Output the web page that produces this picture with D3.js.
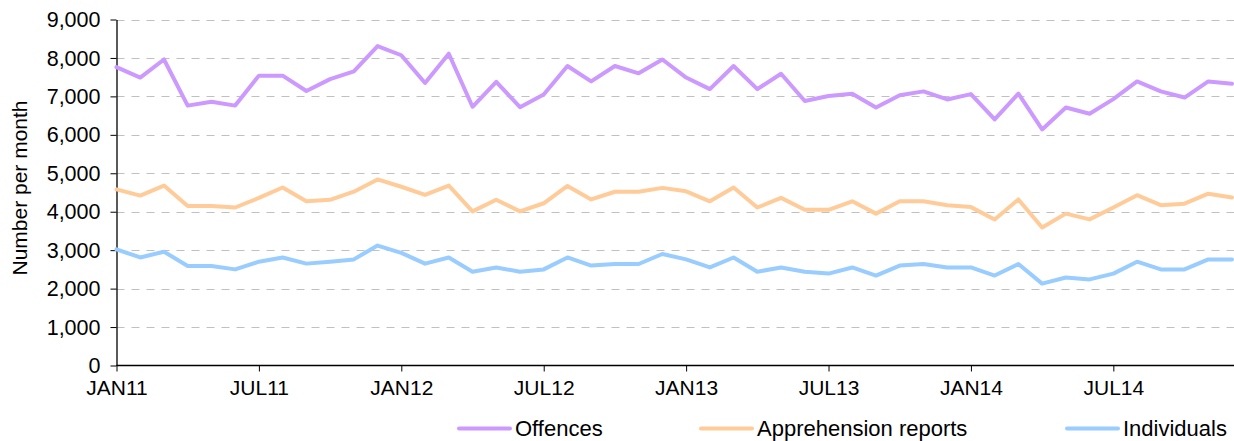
<!DOCTYPE html>
<html>
<head>
<meta charset="utf-8">
<script src="https://cdn.jsdelivr.net/npm/d3@7"></script>
<style>
  html, body { margin: 0; padding: 0; background: #fff; }
  svg { display: block; font-family: "Liberation Sans", Arial, sans-serif; }
</style>
</head>
<body>
<svg id="chart" width="1234" height="441"></svg>
<script>
// Months JAN11 .. DEC14
const months = [
  "JAN11","FEB11","MAR11","APR11","MAY11","JUN11","JUL11","AUG11","SEP11","OCT11","NOV11","DEC11",
  "JAN12","FEB12","MAR12","APR12","MAY12","JUN12","JUL12","AUG12","SEP12","OCT12","NOV12","DEC12",
  "JAN13","FEB13","MAR13","APR13","MAY13","JUN13","JUL13","AUG13","SEP13","OCT13","NOV13","DEC13",
  "JAN14","FEB14","MAR14","APR14","MAY14","JUN14","JUL14","AUG14","SEP14","OCT14","NOV14","DEC14"
];
const offences = [
  7760,7490,7960,6760,6860,6760,7540,7540,7140,7450,7650,8310,
  8070,7350,8110,6730,7380,6720,7050,7790,7390,7790,7600,7960,
  7490,7190,7790,7190,7590,6880,7010,7070,6710,7030,7130,6920,
  7060,6400,7070,6140,6710,6550,6930,7390,7130,6970,7390,7330
];
const apprehension = [
  4580,4420,4680,4150,4150,4110,4360,4630,4270,4310,4520,4840,
  4650,4440,4680,4010,4310,4010,4220,4670,4320,4520,4520,4620,
  4530,4270,4630,4110,4360,4050,4050,4270,3950,4270,4270,4170,
  4120,3800,4320,3590,3950,3800,4110,4430,4170,4210,4470,4370
];
const individuals = [
  3020,2810,2960,2590,2590,2500,2700,2810,2650,2700,2760,3120,
  2930,2650,2810,2440,2550,2440,2500,2810,2600,2640,2640,2900,
  2760,2550,2810,2440,2550,2440,2390,2550,2340,2600,2640,2550,
  2550,2340,2640,2130,2290,2240,2390,2700,2500,2500,2760,2760
];
const seriesNames = ["Offences", "Apprehension reports", "Individuals"];
const seriesColors = ["#cc99ff", "#ffcc99", "#99ccff"];
const yTicks = [0,1000,2000,3000,4000,5000,6000,7000,8000,9000];
const xTickLabels = ["JAN11","JUL11","JAN12","JUL12","JAN13","JUL13","JAN14","JUL14"];

const svg = d3.select("#chart");
const x = d3.scaleLinear().domain([0, months.length - 1]).range([116.5, 1232]);
const y = d3.scaleLinear().domain([0, 9000]).range([365.5, 19.5]);
const axisRight = 1234;

// gridlines
svg.append("g").selectAll("line").data(yTicks.filter(d => d > 0)).join("line")
  .attr("x1", 116.5).attr("x2", axisRight)
  .attr("y1", d => Math.round(y(d)) + 0.5).attr("y2", d => Math.round(y(d)) + 0.5)
  .attr("stroke", "#c0c0c0").attr("stroke-width", 1).attr("stroke-dasharray", "8,7");

// y axis
const yAxis = d3.axisLeft(y).tickValues(yTicks).tickSize(6).tickSizeOuter(0)
  .tickFormat(d3.format(","));
const gy = svg.append("g").attr("transform", "translate(116.5,0)").call(yAxis);
gy.select(".domain").attr("stroke", "#000").attr("stroke-width", 1.3);
gy.selectAll(".tick line").attr("stroke", "#000");
gy.selectAll(".tick text").attr("font-size", "21.5px").attr("fill", "#000")
  .attr("font-family", "Liberation Sans, Arial, sans-serif").attr("x", -16).attr("dy", "0.33em");

// x axis
const xTickIdx = xTickLabels.map(l => months.indexOf(l));
const xAxis = d3.axisBottom(x).tickValues(xTickIdx).tickSize(6).tickSizeOuter(0)
  .tickFormat(i => months[i]);
const gx = svg.append("g").attr("transform", "translate(0,365.5)").call(xAxis);
gx.select(".domain").attr("d", `M116.5,0H${axisRight}`).attr("stroke", "#000").attr("stroke-width", 1.3);
gx.selectAll(".tick line").attr("stroke", "#000");
gx.selectAll(".tick text").attr("font-size", "21px").attr("fill", "#000")
  .attr("font-family", "Liberation Sans, Arial, sans-serif").attr("y", 15).attr("dy", "0.71em");

// y axis title
svg.append("text").attr("transform", "translate(26.5,188) rotate(-90)")
  .attr("text-anchor", "middle").attr("font-size", "21px").attr("fill", "#000")
  .text("Number per month");

// lines
const lineGen = d3.line().x((d, i) => x(i)).y(d => y(d));
[offences, apprehension, individuals].forEach((data, k) => {
  svg.append("path").datum(data).attr("d", lineGen)
    .attr("fill", "none").attr("stroke", seriesColors[k]).attr("stroke-width", 4)
    .attr("stroke-linejoin", "round").attr("stroke-linecap", "round");
});

// legend
const legendX = [459, 701, 1067];
const legend = svg.append("g");
seriesNames.forEach((name, k) => {
  legend.append("line").attr("x1", legendX[k]).attr("x2", legendX[k] + 51)
    .attr("y1", 428.5).attr("y2", 428.5)
    .attr("stroke", seriesColors[k]).attr("stroke-width", 4).attr("stroke-linecap", "round");
  legend.append("text").attr("x", legendX[k] + 56).attr("y", 428.5).attr("dy", "0.35em")
    .attr("font-size", "22px").attr("fill", "#000").text(name);
});
</script>
</body>
</html>
